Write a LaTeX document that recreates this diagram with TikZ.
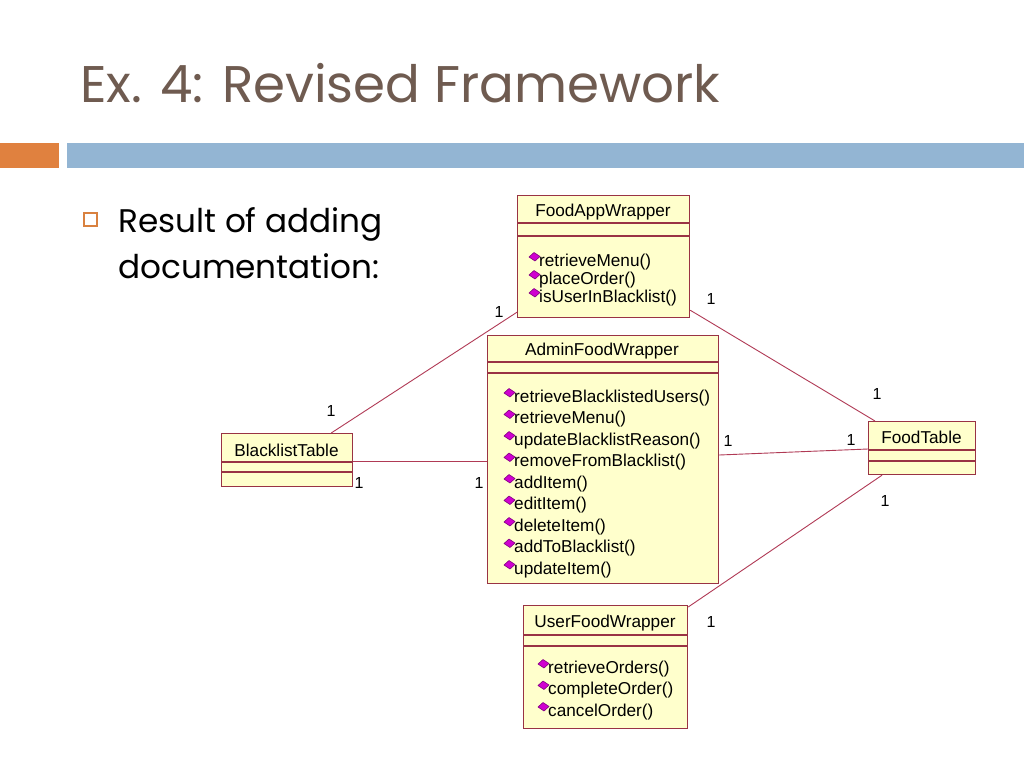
\documentclass[tikz,border=0pt]{standalone}
\usepackage{fontspec}
\setmainfont{Liberation Sans}
\newfontfamily\titlefont{Poppins}
\usetikzlibrary{shapes.geometric}
\definecolor{titlec}{HTML}{6F5B50}
\definecolor{barorange}{HTML}{E0813F}
\definecolor{barblue}{HTML}{93B5D3}
\definecolor{umlfill}{HTML}{FFFFCC}
\definecolor{umlborder}{HTML}{993344}
\definecolor{umlline}{HTML}{B03A55}
\definecolor{opfill}{HTML}{D000D0}
\definecolor{opdraw}{HTML}{800080}
\tikzset{
  umlbox/.style={draw=umlborder, fill=umlfill, line width=1.2pt, inner sep=0pt, anchor=north west},
  sepline/.style={draw=umlborder, line width=1.1pt},
  conn/.style={draw=umlline, line width=0.9pt},
  umltext/.style={font=\fontsize{17.2}{18}\selectfont, inner sep=0pt},
  optext/.style={font=\fontsize{17.2}{18}\selectfont, inner sep=0pt, anchor=west},
  opicon/.style={fill=opfill, draw=opdraw, line width=0.6pt, line join=round},
  mult/.style={font=\fontsize{16}{18}\selectfont, inner sep=0pt}
}
\newcommand{\umlop}[4]{%
  \node[optext] (#1) at (#2,#3) {#4};
  \path[opicon] ([xshift=-10pt,yshift=5pt]#1.west) -- ++(5,-4.5) -- ++(6,4) -- ++(-5,4.5) -- cycle;}
\begin{document}
\begin{tikzpicture}[x=1pt,y=-1pt]
\useasboundingbox (0,0) rectangle (1024,768);
\fill[white] (0,0) rectangle (1024,768);
% title
\node[font=\titlefont\fontsize{51.5}{56}\selectfont, text=titlec, anchor=base west, inner sep=0pt] (title) at (80,102) {Ex. 4: Revised Framework};
% bar
\fill[barorange] (0,143) rectangle (59,168);
\fill[barblue] (67,143) rectangle (1024,168);
% bullet
\draw[draw=barorange!80!brown, line width=1.2pt] (84,213) rectangle (97,226);
\node[font=\titlefont\fontsize{32.7}{40}\selectfont, anchor=base west, inner sep=0pt] (b1) at (118,232) {Result of adding};
\node[font=\titlefont\fontsize{32.7}{40}\selectfont, anchor=base west, inner sep=0pt] (b2) at (118,278) {documentation:};

% FoodAppWrapper
\node[umlbox, minimum width=172pt, minimum height=122pt] (fa) at (517,195) {};
\draw[sepline] (517,223) -- (689,223);
\draw[sepline] (517,236) -- (689,236);
\node[umltext] (fan) at (603,212) {FoodAppWrapper};
\umlop{fa1}{539}{262}{retrieveMenu()}
\umlop{fa2}{539}{280}{placeOrder()}
\umlop{fa3}{539}{298}{isUserInBlacklist()}

% AdminFoodWrapper
\node[umlbox, minimum width=231pt, minimum height=248pt] (ad) at (487,335) {};
\draw[sepline] (487,362) -- (718,362);
\draw[sepline] (487,373) -- (718,373);
\node[umltext] (adn) at (602,351) {AdminFoodWrapper};
\umlop{ad1}{514}{398}{retrieveBlacklistedUsers()}
\umlop{ad2}{514}{419.5}{retrieveMenu()}
\umlop{ad3}{514}{441}{updateBlacklistReason()}
\umlop{ad4}{514}{462.5}{removeFromBlacklist()}
\umlop{ad5}{514}{484}{addItem()}
\umlop{ad6}{514}{505.5}{editItem()}
\umlop{ad7}{514}{527}{deleteItem()}
\umlop{ad8}{514}{548.5}{addToBlacklist()}
\umlop{ad9}{514}{570}{updateItem()}

% BlacklistTable
\node[umlbox, minimum width=131pt, minimum height=53pt] (bl) at (221,433) {};
\draw[sepline] (221,462) -- (352,462);
\draw[sepline] (221,472) -- (352,472);
\node[umltext] (bln) at (286.5,450) {BlacklistTable};

% FoodTable
\node[umlbox, minimum width=107pt, minimum height=53pt] (ft) at (868,421) {};
\draw[sepline] (868,450) -- (975,450);
\draw[sepline] (868,461) -- (975,461);
\node[umltext] (ftn) at (921.5,437) {FoodTable};

% UserFoodWrapper
\node[umlbox, minimum width=164pt, minimum height=123pt] (uf) at (523,605) {};
\draw[sepline] (523,635) -- (687,635);
\draw[sepline] (523,646) -- (687,646);
\node[umltext] (ufn) at (605,623) {UserFoodWrapper};
\umlop{uf1}{548}{669}{retrieveOrders()}
\umlop{uf2}{548}{690.5}{completeOrder()}
\umlop{uf3}{548}{712}{cancelOrder()}

% connector end points
\coordinate (faL) at ([yshift=6pt]fa.south west);
\coordinate (faR) at ([yshift=8pt]fa.south east);
\coordinate (blT) at ([xshift=-22pt]bl.north east);
\coordinate (blR) at ([yshift=-28pt]bl.north east);
\coordinate (adL) at ([yshift=-126pt]ad.north west);
\coordinate (adR) at ([yshift=-120pt]ad.north east);
\coordinate (ftT) at ([xshift=7pt]ft.north west);
\coordinate (ftL) at ([yshift=-28pt]ft.north west);
\coordinate (ftB) at ([xshift=14pt]ft.south west);
\coordinate (ufT) at ([yshift=-2pt]uf.north east);

\draw[conn] (faL) -- (blT);
\draw[conn] (faR) -- (ftT);
\draw[conn] (blR) -- (adL);
\draw[conn] (adR) -- (ftL);
\draw[conn] (ufT) -- (ftB);

% multiplicities
\node[mult] (m1) at (499,312) {1};
\node[mult] (m2) at (711,299) {1};
\node[mult] (m3) at (331,411) {1};
\node[mult] (m4) at (359,483) {1};
\node[mult] (m5) at (479,483) {1};
\node[mult] (m6) at (728,441) {1};
\node[mult] (m7) at (851,440) {1};
\node[mult] (m8) at (877,394) {1};
\node[mult] (m9) at (885,501) {1};
\node[mult] (m10) at (711,622) {1};
\end{tikzpicture}
\end{document}
